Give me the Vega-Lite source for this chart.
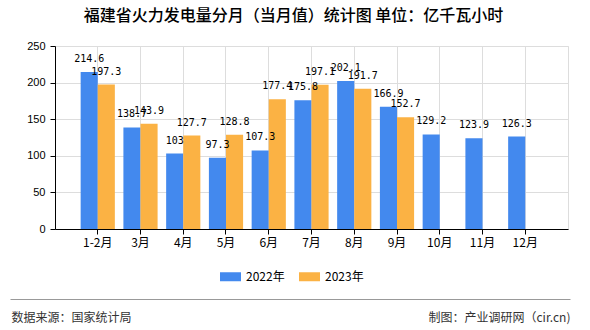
{
  "$schema": "https://vega.github.io/schema/vega-lite/v6.json",
  "width": 513,
  "height": 183,
  "autosize": {"type": "none"},
  "padding": {"left": 55, "top": 46, "right": 22, "bottom": 101},
  "background": "#ffffff",
  "title": {
    "text": "福建省火力发电量分月（当月值）统计图 单位：亿千瓦小时",
    "anchor": "middle",
    "frame": "group",
    "dx": -18,
    "offset": 16,
    "font": "Noto Sans CJK SC",
    "fontSize": 16,
    "fontWeight": 500,
    "color": "#000000"
  },
  "config": {
    "view": {"stroke": "#dddddd"},
    "axis": {"gridColor": "#dddddd"}
  },
  "data": {
    "values": [
      {"month": "1-2月", "year": "2022年", "value": 214.6},
      {"month": "3月", "year": "2022年", "value": 138.7},
      {"month": "4月", "year": "2022年", "value": 103},
      {"month": "5月", "year": "2022年", "value": 97.3},
      {"month": "6月", "year": "2022年", "value": 107.3},
      {"month": "7月", "year": "2022年", "value": 175.8},
      {"month": "8月", "year": "2022年", "value": 202.1},
      {"month": "9月", "year": "2022年", "value": 166.9},
      {"month": "10月", "year": "2022年", "value": 129.2},
      {"month": "11月", "year": "2022年", "value": 123.9},
      {"month": "12月", "year": "2022年", "value": 126.3},
      {"month": "1-2月", "year": "2023年", "value": 197.3},
      {"month": "3月", "year": "2023年", "value": 143.9},
      {"month": "4月", "year": "2023年", "value": 127.7},
      {"month": "5月", "year": "2023年", "value": 128.8},
      {"month": "6月", "year": "2023年", "value": 177.4},
      {"month": "7月", "year": "2023年", "value": 197.1},
      {"month": "8月", "year": "2023年", "value": 191.7},
      {"month": "9月", "year": "2023年", "value": 152.7}
    ]
  },
  "layer": [
    {
      "encoding": {
        "x": {
          "field": "month",
          "type": "nominal",
          "sort": ["1-2月", "3月", "4月", "5月", "6月", "7月", "8月", "9月", "10月", "11月", "12月"],
          "scale": {"paddingInner": 0.2, "paddingOuter": 0.6},
          "axis": {
            "title": "数据来源：国家统计局",
            "titleX": -44,
            "titleY": 88,
            "titleAlign": "left",
            "titleBaseline": "middle",
            "titleAnchor": null,
            "titleFont": "Noto Sans CJK SC",
            "titleFontSize": 12,
            "titleFontWeight": "normal",
            "titleColor": "#333333",
            "labelAngle": 0,
            "labelFont": "Noto Sans CJK SC",
            "labelFontSize": 12,
            "labelColor": "#000000",
            "labelPadding": 3,
            "domainColor": "#000000",
            "tickColor": "#000000",
            "tickSize": 5,
            "bandPosition": 0.5,
            "grid": true,
            "gridColor": "#dddddd"
          }
        },
        "xOffset": {
          "field": "year",
          "type": "nominal",
          "scale": {"paddingInner": 0, "paddingOuter": 0}
        },
        "y": {
          "field": "value",
          "type": "quantitative",
          "scale": {"domain": [0, 250], "nice": false},
          "axis": {
            "title": null,
            "values": [0, 50, 100, 150, 200, 250],
            "labelFont": "Liberation Sans",
            "labelFontSize": 11,
            "labelColor": "#000000",
            "labelPadding": 5,
            "domainColor": "#000000",
            "tickColor": "#000000",
            "tickSize": 5,
            "grid": true,
            "gridColor": "#dddddd"
          }
        }
      },
      "layer": [
        {
          "mark": {"type": "bar"},
          "encoding": {
            "color": {
              "field": "year",
              "type": "nominal",
              "scale": {"domain": ["2022年", "2023年"], "range": ["#4389ee", "#fbb244"]},
              "legend": {
                "title": null,
                "orient": "none",
                "direction": "horizontal",
                "legendX": 165,
                "legendY": 220,
                "padding": 0,
                "symbolType": "M-1,-0.4286H1V0.4286H-1Z",
                "symbolSize": 441,
                "symbolStrokeWidth": 0,
                "labelOffset": 5,
                "columnPadding": 14,
                "labelFont": "Noto Sans CJK SC",
                "labelFontSize": 12,
                "labelColor": "#000000"
              }
            }
          }
        },
        {
          "mark": {"type": "text", "baseline": "middle", "dy": -13, "font": "DejaVu Sans Mono", "fontSize": 10, "color": "#000000"},
          "encoding": {
            "text": {"field": "value", "type": "quantitative"}
          }
        }
      ]
    },
    {
      "mark": {"type": "point", "opacity": 0},
      "encoding": {
        "x": {
          "field": "value",
          "type": "quantitative",
          "scale": {"range": [-45, 515], "zero": false},
          "axis": {
            "orient": "bottom",
            "offset": 70,
            "labels": false,
            "ticks": false,
            "grid": false,
            "domainColor": "#999999",
            "domainWidth": 1,
            "title": "制图：产业调研网（cir.cn)",
            "titleX": 515,
            "titleY": 18,
            "titleAlign": "right",
            "titleBaseline": "middle",
            "titleAnchor": null,
            "titleFont": "Noto Sans CJK SC",
            "titleFontSize": 12,
            "titleFontWeight": "normal",
            "titleColor": "#333333"
          }
        }
      }
    }
  ],
  "resolve": {"scale": {"x": "independent"}, "axis": {"x": "independent"}}
}
